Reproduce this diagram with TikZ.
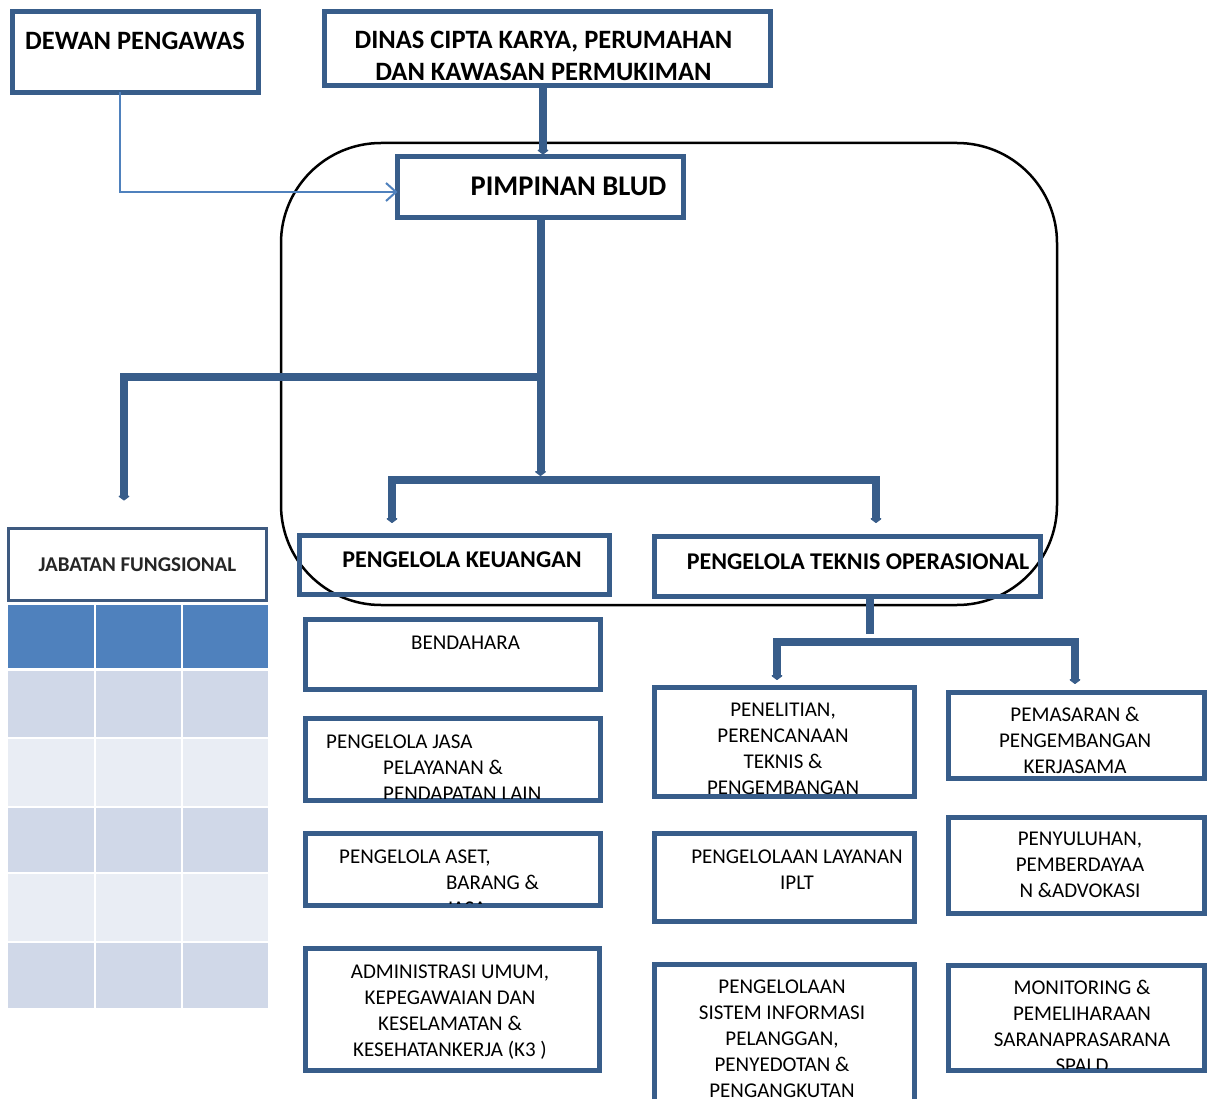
\documentclass[tikz,border=0pt]{standalone}
\usepackage{fontspec}
\setmainfont{Carlito}
\usetikzlibrary{arrows.meta}

\definecolor{boxblue}{HTML}{385D8A}
\definecolor{lineblue}{HTML}{4F81BD}
\definecolor{headblue}{HTML}{4F81BD}
\definecolor{rowdark}{HTML}{D0D8E8}
\definecolor{rowlight}{HTML}{E9EDF4}
\definecolor{hdrline}{HTML}{3E5A80}
\definecolor{hdrtext}{HTML}{262626}

% clip to the inside of a framed box (border is 5pt wide)
\newcommand\boxclip[1]{\clip ([shift={(2.5,2.5)}]#1.north west) rectangle ([shift={(-2.5,-2.5)}]#1.south east);}

% multi-line labels are placed by the baseline of their last line
\tikzset{
  orgbox/.style={draw=boxblue, line width=5pt, rectangle, inner sep=0pt, outer sep=0pt},
  conn/.style={draw=boxblue, line width=8pt, line join=miter},
  pointy/.style={-{Triangle[width=13pt,length=5pt,round]}},
  txt/.style={font=\fontsize{21}{26}\selectfont, inner sep=0pt, align=center, anchor=base},
  txtl/.style={txt, align=left, anchor=base west},
  head/.style={font=\bfseries\fontsize{26.5}{32}\selectfont, inner sep=0pt, align=center, anchor=base},
}

\begin{document}
\begin{tikzpicture}[x=1pt,y=-1pt]
\useasboundingbox (0,0) rectangle (1209,1099);
\clip (0,0) rectangle (1209,1099);
\fill[white] (0,0) rectangle (1209,1099);

% BLUD frame
\draw[line width=2.5pt, rounded corners=100pt] (281,143) rectangle (1057,605);

% boxes
\node[orgbox, minimum width=246pt, minimum height=81pt]  (dewan)      at (135.5,52)   {};
\node[orgbox, minimum width=446pt, minimum height=74pt]  (dinas)      at (547.5,48.5) {};
\node[orgbox, minimum width=286pt, minimum height=61pt]  (pimpinan)   at (540.5,187)  {};
\node[orgbox, minimum width=310pt, minimum height=59pt]  (keuangan)   at (454.5,565)  {};
\node[orgbox, minimum width=386pt, minimum height=60pt]  (teknis)     at (847.5,566.5){};
\node[orgbox, minimum width=295pt, minimum height=70pt]  (bendahara)  at (453,654.5)  {};
\node[orgbox, minimum width=295pt, minimum height=82pt]  (jasa)       at (453,759.5)  {};
\node[orgbox, minimum width=295pt, minimum height=72pt]  (aset)       at (453,869.5)  {};
\node[orgbox, minimum width=294pt, minimum height=122pt] (admin)      at (452.5,1009.5){};
\node[orgbox, minimum width=260pt, minimum height=109pt] (penelitian) at (784.5,742)  {};
\node[orgbox, minimum width=256pt, minimum height=86pt]  (pemasaran)  at (1076.5,735.5){};
\node[orgbox, minimum width=260pt, minimum height=88pt]  (iplt)       at (784.5,877.5){};
\node[orgbox, minimum width=256pt, minimum height=96pt]  (penyuluhan) at (1076.5,865.5){};
\node[orgbox, minimum width=260pt, minimum height=147pt] (sistem)     at (784.5,1038) {};
\node[orgbox, minimum width=256pt, minimum height=105pt] (monitoring) at (1076.5,1018){};

% box texts
\node[head] (dewan-t) at (135,49.5) {DEWAN PENGAWAS};
\node[head] (dinas-t) at (543.5,80.5) {DINAS CIPTA KARYA, PERUMAHAN\\DAN KAWASAN PERMUKIMAN};
\node[head, font=\bfseries\fontsize{28.5}{34}\selectfont] (pimpinan-t) at (568.5,195.2) {PIMPINAN BLUD};
\node[head, font=\bfseries\fontsize{24}{29}\selectfont] (keuangan-t) at (462,567.7) {PENGELOLA KEUANGAN};
\node[head, font=\bfseries\fontsize{24}{29}\selectfont] (teknis-t) at (858,569.7) {PENGELOLA TEKNIS OPERASIONAL};

\begin{scope}\boxclip{bendahara}
\node[txt] (bendahara-t) at (465.5,649.8) {BENDAHARA};
\end{scope}
\begin{scope}\boxclip{jasa}
\node[txtl] (jasa-t) at (326,800.8) {PENGELOLA JASA\\\hspace*{57pt}PELAYANAN \&\\\hspace*{57pt}PENDAPATAN LAIN};
\end{scope}
\begin{scope}\boxclip{aset}
\node[txtl] (aset-t) at (339,915.8) {PENGELOLA ASET,\\\hspace*{107pt}BARANG \&\\\hspace*{107pt}JASA};
\end{scope}
\begin{scope}\boxclip{admin}
\node[txt] (admin-t) at (450,1056.8) {ADMINISTRASI UMUM,\\KEPEGAWAIAN DAN\\KESELAMATAN \&\\KESEHATANKERJA (K3 )};
\end{scope}
\begin{scope}\boxclip{penelitian}
\node[txt] (penelitian-t) at (783,794.8) {PENELITIAN,\\PERENCANAAN\\TEKNIS \&\\PENGEMBANGAN};
\end{scope}
\begin{scope}\boxclip{pemasaran}
\node[txt] (pemasaran-t) at (1075,773.8) {PEMASARAN \&\\PENGEMBANGAN\\KERJASAMA};
\end{scope}
\begin{scope}\boxclip{iplt}
\node[txt] (iplt-t) at (797,889.8) {PENGELOLAAN LAYANAN\\IPLT};
\end{scope}
\begin{scope}\boxclip{penyuluhan}
\node[txt] (penyuluhan-t) at (1080,897.8) {PENYULUHAN,\\PEMBERDAYAA\\N \&ADVOKASI};
\end{scope}
\begin{scope}\boxclip{sistem}
\node[txt] (sistem-t) at (782,1097.8) {PENGELOLAAN\\SISTEM INFORMASI\\PELANGGAN,\\PENYEDOTAN \&\\PENGANGKUTAN};
\end{scope}
\begin{scope}\boxclip{monitoring}
\node[txt] (monitoring-t) at (1082,1072.8) {MONITORING \&\\PEMELIHARAAN\\SARANAPRASARANA\\SPALD};
\end{scope}

% functional positions table
\foreach \ya/\yb/\c in {605/668/headblue, 671/737/rowdark, 739/806/rowlight,
                        808/872/rowdark, 874/941/rowlight, 943/1008/rowdark}
  \foreach \xa/\xb in {8/94, 96/181, 183/268}
    \fill[\c] (\xa,\ya) rectangle (\xb,\yb);
\node[draw=hdrline, line width=3pt, fill=white, minimum width=258pt, minimum height=72pt,
      inner sep=0pt, outer sep=0pt, text=hdrtext, font=\bfseries\fontsize{21}{25}\selectfont]
      (jabatan) at (137.5,564.5) {JABATAN FUNGSIONAL};

% connectors
\coordinate (split) at (540.5,377);
\coordinate (fork)  at (540.5,480);
\coordinate (fork2) at (870,642);

\draw[lineblue, line width=2pt, -{Straight Barb[length=10pt,width=18pt]}]
  ([xshift=-15.5pt]dewan.south) |- ([yshift=-5pt]pimpinan.west);
\draw[conn, pointy, shorten >=2pt] ([xshift=-4.5pt]dinas.south) -- ([xshift=2.5pt]pimpinan.north);
\draw[conn, pointy, shorten >=4pt] (pimpinan.south) -- (fork);
\draw[conn, pointy, shorten >=28pt] (split) -| ([xshift=-13.5pt]jabatan.north);
\draw[conn, pointy, shorten >=12.5pt] (fork) -| ([xshift=-62.5pt]keuangan.north);
\draw[conn, pointy, shorten >=13.5pt] (fork) -| ([xshift=28.5pt]teknis.north);
\draw[conn] ([xshift=22.5pt]teknis.south) -- ([yshift=8pt]fork2);
\draw[conn, pointy, shorten >=7.5pt] (fork2) -| ([xshift=-7.5pt]penelitian.north);
\draw[conn, pointy, shorten >=8.5pt] (fork2) -| ([xshift=-1.5pt]pemasaran.north);
\end{tikzpicture}
\end{document}
